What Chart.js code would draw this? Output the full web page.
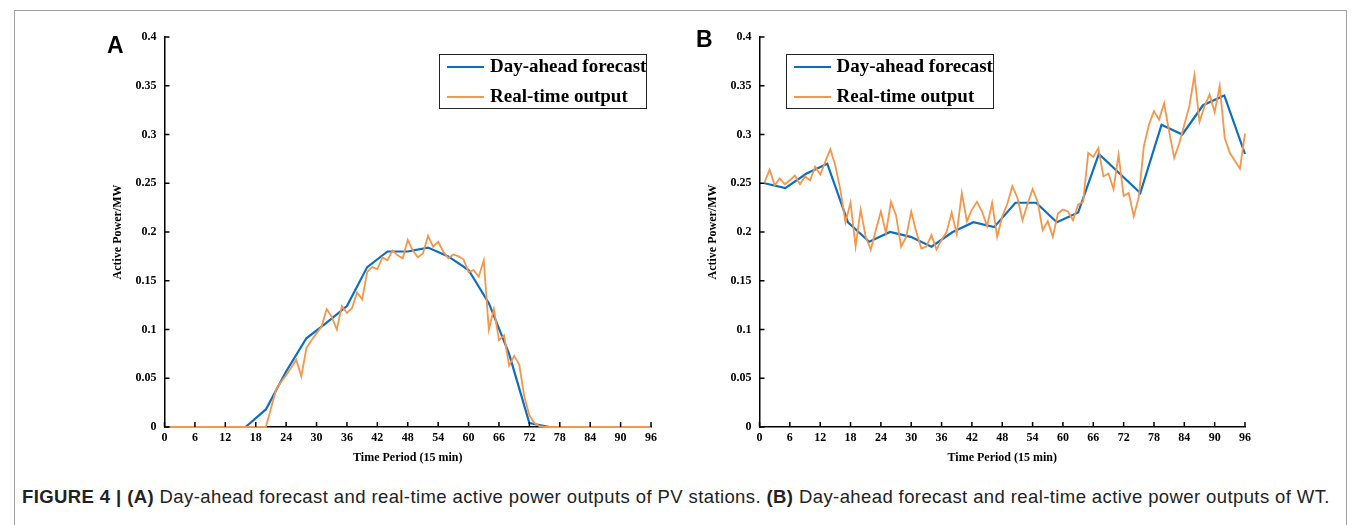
<!DOCTYPE html>
<html>
<head>
<meta charset="utf-8">
<script src="https://cdn.jsdelivr.net/npm/chart.js@4.4.0/dist/chart.umd.min.js"></script>
<style>
body{margin:0;background:#fff;width:1356px;height:525px;overflow:hidden;position:relative;}
#frame{position:absolute;left:14px;top:10px;width:1331px;height:530px;border:1px solid #a0a0a0;}
canvas{position:absolute;}
.tag{position:absolute;font:bold 23px "Liberation Sans",Arial,sans-serif;color:#000;}
.legend{position:absolute;top:54px;width:206px;height:53px;border:1.5px solid #222;background:#fff;font:bold 19px "Liberation Serif",serif;color:#000;}
.legend .sw{position:absolute;left:7px;width:37px;height:0;}
.legend .tx{position:absolute;left:50px;line-height:20px;white-space:nowrap;}
#caption{position:absolute;left:22px;top:486px;font:18.5px "Liberation Sans",Arial,sans-serif;letter-spacing:0.4px;color:#222;white-space:nowrap;}
</style>
</head>
<body>
<div id="frame"></div>
<canvas id="chartA" width="580" height="463" style="left:100px;top:17px"></canvas>
<canvas id="chartB" width="579" height="463" style="left:694.5px;top:17px"></canvas>
<div class="tag" style="left:107px;top:32px">A</div>
<div class="tag" style="left:696px;top:26px">B</div>

<div class="legend" style="left:439px">
  <div class="sw" style="top:11px;border-top:2px solid #0b6ec5"></div>
  <div class="tx" style="top:1px">Day-ahead forecast</div>
  <div class="sw" style="top:41px;border-top:2px solid #f5964a"></div>
  <div class="tx" style="top:31px">Real-time output</div>
</div>
<div class="legend" style="left:785.5px">
  <div class="sw" style="top:11px;border-top:2px solid #0b6ec5"></div>
  <div class="tx" style="top:1px">Day-ahead forecast</div>
  <div class="sw" style="top:41px;border-top:2px solid #f5964a"></div>
  <div class="tx" style="top:31px">Real-time output</div>
</div>

<div id="caption"><b>FIGURE 4 | (A)</b> Day-ahead forecast and real-time active power outputs of PV stations. <b>(B)</b> Day-ahead forecast and real-time active power outputs of WT.</div>

<script>
// (A) PV station: hourly forecast, 15-min real-time output (t = 1..96)
var hourA = [0,4,8,12,16,20,24,28,32,36,40,44,48,52,56,60,64,68,72,76,80,84,88,92,96];
var forecastA = [0,0,0,0,0,0.018,0.057,0.091,0.107,0.124,0.164,0.18,0.18,0.184,0.175,0.161,0.127,0.075,0.004,0,0,0,0,0,0];
var realA = [0,0,0,0,0,0,0,0,0,0,
  0,0,0,0,0,0,0,0,0,0,
  0.019,0.038,0.0465,0.053,0.061,0.069,0.052,0.081,0.089,0.096,
  0.103,0.121,0.113,0.100,0.124,0.117,0.122,0.138,0.131,0.159,
  0.164,0.162,0.174,0.171,0.181,0.176,0.173,0.192,0.181,0.174,
  0.178,0.196,0.185,0.190,0.180,0.173,0.177,0.175,0.172,0.159,
  0.161,0.154,0.171,0.100,0.121,0.089,0.094,0.063,0.073,0.064,
  0.031,0.012,0.004,0.001,0,0,0,0,0,0,
  0,0,0,0,0,0,0,0,0,0,
  0,0,0,0,0,0];

// (B) wind turbine
var hourB = [1,5.1,9.3,13.4,17.5,21.7,25.8,29.9,34,38.2,42.3,46.4,50.6,54.7,58.8,63,67.1,71.2,75.3,79.5,83.6,87.7,91.9,96];
var forecastB = [0.25,0.245,0.26,0.27,0.21,0.19,0.2,0.195,0.185,0.2,0.21,0.205,0.23,0.23,0.21,0.22,0.28,0.26,0.24,0.31,0.30,0.33,0.34,0.28];
var realB = [0.251,0.264,0.248,0.255,0.249,0.253,0.258,0.249,0.257,0.253,
  0.267,0.259,0.272,0.285,0.268,0.243,0.21,0.230,0.185,0.223,
  0.195,0.182,0.202,0.221,0.199,0.231,0.217,0.185,0.195,0.221,
  0.200,0.183,0.185,0.197,0.182,0.192,0.200,0.220,0.198,0.240,
  0.211,0.223,0.231,0.221,0.206,0.230,0.195,0.216,0.229,0.247,
  0.235,0.212,0.229,0.244,0.231,0.202,0.211,0.195,0.219,0.223,
  0.221,0.212,0.228,0.231,0.281,0.277,0.286,0.257,0.260,0.244,
  0.279,0.237,0.240,0.216,0.236,0.288,0.310,0.324,0.315,0.332,
  0.303,0.276,0.291,0.310,0.329,0.361,0.313,0.329,0.341,0.323,
  0.350,0.296,0.281,0.273,0.265,0.301];

var blue = '#0b6ec5', orange = '#f5964a';
var serif = 'Liberation Serif';

var realTimes = [];
for (var i = 1; i <= 96; i++) realTimes.push(i);

function pts(xs, ys){
  return ys.map(function(y, i){ return {x: xs[i], y: y}; });
}

// MATLAB style tick marks pointing into the plot
var inwardTicks = {
  id: 'inwardTicks',
  afterDraw: function(chart){
    var ctx = chart.ctx, a = chart.chartArea;
    var xs = chart.scales.x, ys = chart.scales.y;
    ctx.save();
    ctx.strokeStyle = '#000';
    ctx.lineWidth = 1.5;
    ctx.beginPath();
    xs.ticks.forEach(function(t){
      var p = xs.getPixelForValue(t.value);
      ctx.moveTo(p, a.bottom); ctx.lineTo(p, a.bottom - 5);
    });
    ys.ticks.forEach(function(t){
      var p = ys.getPixelForValue(t.value);
      ctx.moveTo(a.left, p); ctx.lineTo(a.left + 5, p);
    });
    ctx.stroke();
    ctx.restore();
  }
};

function makeChart(id, fx, fy, ry){
  var tickFont = {family: serif, weight: 'bold', size: 12};
  return new Chart(document.getElementById(id), {
    type: 'line',
    data: {
      datasets: [
        {label: 'Real-time output', data: pts(realTimes, ry), borderColor: orange, borderWidth: 1.8,
         pointRadius: 0, tension: 0, order: 0, clip: false},
        {label: 'Day-ahead forecast', data: pts(fx, fy), borderColor: blue, borderWidth: 2.2,
         pointRadius: 0, tension: 0, order: 1, clip: false}
      ]
    },
    options: {
      responsive: false,
      animation: false,
      devicePixelRatio: 1,
      layout: {padding: {top: 20, right: 29, bottom: 0, left: 0}},
      plugins: {legend: {display: false}, tooltip: {enabled: false}},
      scales: {
        x: {
          type: 'linear', min: 0, max: 96,
          ticks: {stepSize: 6, padding: 4, color: '#000', font: tickFont, maxRotation: 0, autoSkip: false},
          grid: {display: false, drawTicks: false},
          border: {color: '#000', width: 1.5},
          title: {display: true, text: 'Time Period (15 min)', color: '#000', font: tickFont, padding: {top: 0, bottom: 15}},
          afterFit: function(s){ s.height = 53; }
        },
        y: {
          min: 0, max: 0.4,
          ticks: {stepSize: 0.05, padding: 8, color: '#000', font: tickFont,
                  callback: function(v){ return String(Math.round(v * 100) / 100); }},
          grid: {display: false, drawTicks: false},
          border: {color: '#000', width: 1.5},
          title: {display: true, text: 'Active Power/MW', color: '#000', font: tickFont, padding: {top: 11, bottom: 0}},
          afterFit: function(s){ s.width = 64.5; }
        }
      }
    },
    plugins: [inwardTicks]
  });
}

makeChart('chartA', hourA, forecastA, realA);
makeChart('chartB', hourB, forecastB, realB);
</script>
</body>
</html>
